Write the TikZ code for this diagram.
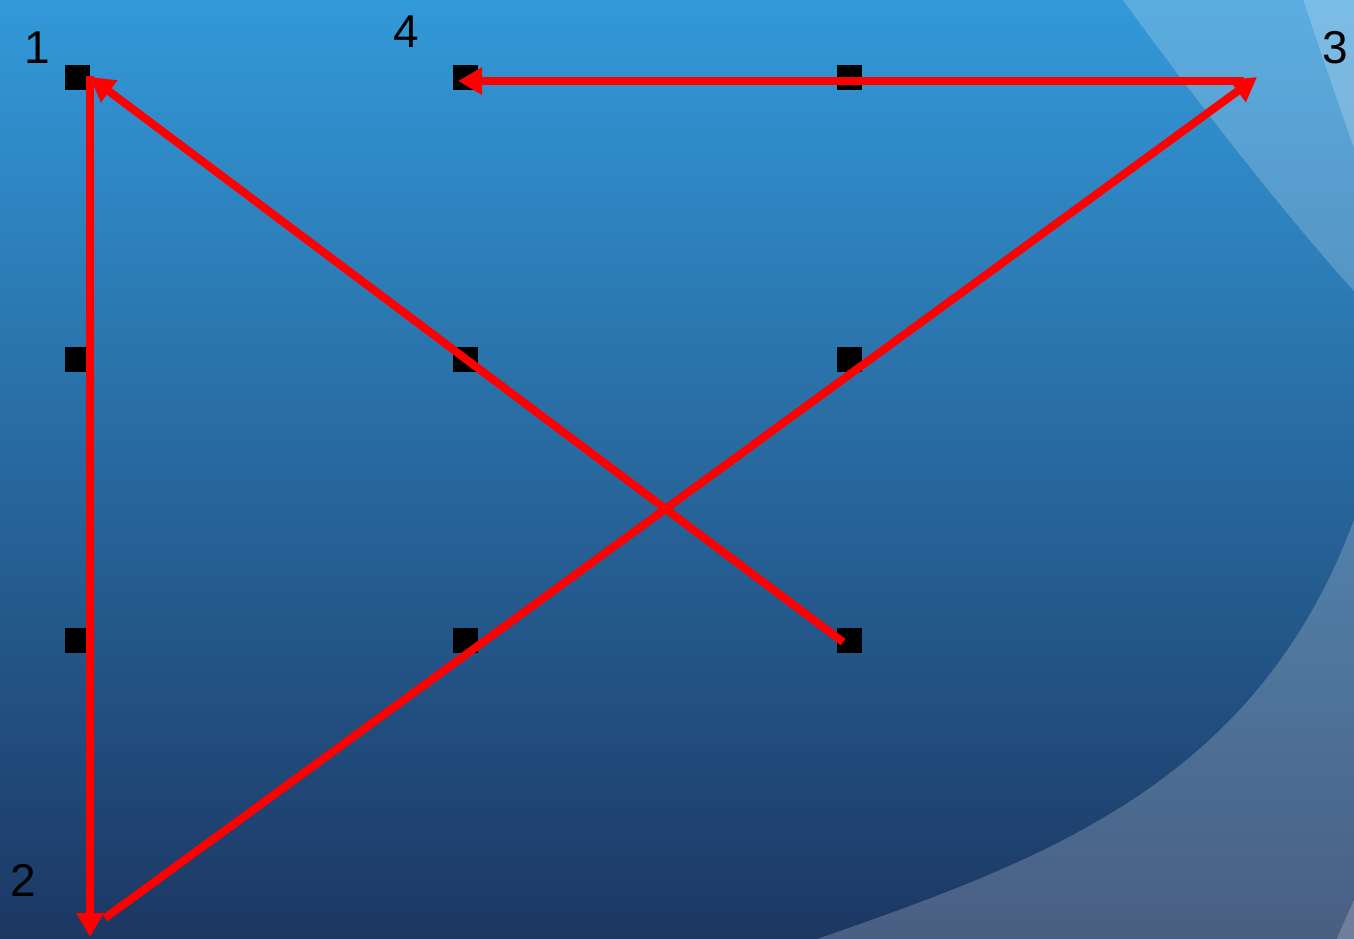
\documentclass[tikz,border=0pt]{standalone}
\usepackage{fontspec}
\setmainfont{Liberation Sans}
\usetikzlibrary{arrows.meta}
\definecolor{bgtop}{RGB}{51,153,217}
\definecolor{bgbot}{RGB}{28,55,99}
\begin{document}
\begin{tikzpicture}[x=0.5pt,y=-0.5pt,
  dot/.style={fill=black,minimum size=12.5pt,inner sep=0pt,outer sep=0pt},
  lab/.style={inner sep=0pt,text=black,font=\fontsize{23}{27}\selectfont},
  sheen/.style={fill=white,opacity=0.2},
  redarrow/.style={draw=red,line width=4pt,-{Triangle[length=12pt,width=13pt]}}]
\useasboundingbox (0,0) rectangle (1354,938);
\fill[top color=bgtop,bottom color=bgbot] (0,0) rectangle (1354,938);
\begin{scope}
  \clip (0,0) rectangle (1354,938);
  % large light swoosh: top piece and bottom piece
  \fill[sheen] (1105,-25) .. controls (1180,80) and (1280,210) .. (1362,300) -- (1500,300) -- (1500,-30) -- cycle;
  \fill[sheen] (1362,500) -- (1354,520) .. controls (1256,783) and (1046,859) .. (820,938)
     -- (760,960) -- (1500,965) -- (1500,500) -- cycle;
  % lighter inner swoosh
  \fill[sheen] (1295,-25) .. controls (1315,35) and (1335,95) .. (1360,165) -- (1500,165) -- (1500,-30) -- cycle;
  \fill[sheen] (1362,885) -- (1354,900) -- (1337,938) -- (1326,965) -- (1500,965) -- (1500,885) -- cycle;
\end{scope}
% grid of dots
\node[dot] (s11) at (77.5,77.5) {};
\node[dot] (s12) at (465.5,77.5) {};
\node[dot] (s13) at (849.5,77.5) {};
\node[dot] (s21) at (77.5,359) {};
\node[dot] (s22) at (465.5,359) {};
\node[dot] (s23) at (849.5,359) {};
\node[dot] (s31) at (77.5,640.5) {};
\node[dot] (s32) at (465.5,640.5) {};
\node[dot] (s33) at (849.5,640.5) {};
% labels
\node[lab] (l1) at (37,48) {1};
\node[lab] (l4) at (406,32) {4};
\node[lab] (l3) at (1335,48) {3};
\node[lab] (l2) at (23,880) {2};
% arrow end points
\coordinate (p0) at (843,642);
\coordinate (p1) at (90,77);
\coordinate (p1b) at (90,76);
\coordinate (p2) at (90,937);
\coordinate (p2b) at (105,918);
\coordinate (p3) at (1257,77);
\coordinate (p3b) at (1244,81);
\coordinate (p4) at (458,81);
\draw[redarrow] (p0) -- (p1);
\draw[redarrow] (p1b) -- (p2);
\draw[redarrow] (p2b) -- (p3);
\draw[redarrow] (p3b) -- (p4);
\end{tikzpicture}
\end{document}
